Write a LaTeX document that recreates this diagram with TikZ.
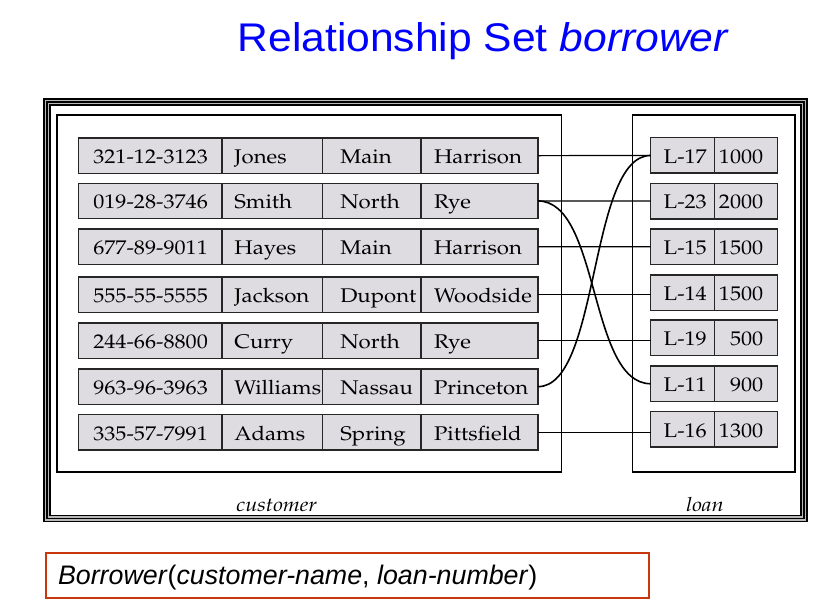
\documentclass[tikz,border=0pt]{standalone}
\usepackage[T1]{fontenc}
\usepackage{fontspec}
\newfontfamily\arialfont{Liberation Sans}
\newcommand\palfont{\fontencoding{T1}\fontfamily{ppl}\selectfont}
\newcommand\wide[1]{\scalebox{1.12}[1]{#1}}
% fixed-width cell contents: left or right aligned with a padding
\newcommand\lcell[3]{\makebox[#1pt][l]{\hspace*{#2pt}\wide{#3}}}
\newcommand\rcell[3]{\makebox[#1pt][r]{\wide{#3}\hspace*{#2pt}}}
\definecolor{cellgray}{RGB}{222,220,224}
\definecolor{boxred}{RGB}{200,56,12}
\definecolor{titleblue}{RGB}{0,0,255}

\tikzset{
  cell/.style={draw=black!85, line width=1.5pt, fill=cellgray, anchor=north west,
    inner sep=0pt, outer sep=0pt, minimum height=35.3pt,
    text height=15.6pt, text depth=0pt,
    font=\palfont\fontsize{19.8}{22}\selectfont},
  loancell/.style={cell, minimum height=35.5pt},
  frame/.style={line width=1.3pt, draw=black},
  link/.style={line width=1.2pt, draw=black},
  curvelink/.style={line width=1.6pt, draw=black},
  setlabel/.style={anchor=base, font=\palfont\itshape\fontsize{19.5}{22}\selectfont},
}

% one customer tuple: prefix, top, ssn, name, street, city
\newcommand\custrow[6]{%
  \node[cell] (#1a) at (78.3,#2) {\lcell{143.7}{15}{#3}};
  \node[cell] (#1b) at (#1a.north east) {\lcell{100.3}{12.3}{#4}};
  \node[cell] (#1c) at (#1b.north east) {\lcell{98.7}{18}{#5}};
  \node[cell] (#1d) at (#1c.north east) {\lcell{117}{13}{#6}};
}
% one loan tuple: prefix, top, number, amount
\newcommand\loanrow[4]{%
  \node[loancell] (#1a) at (650.7,#2) {\lcell{63.6}{13}{#3}};
  \node[loancell] (#1b) at (#1a.north east) {\rcell{63}{14}{#4}};
}

\begin{document}
\begin{tikzpicture}[x=1pt,y=-1pt]
  \fill[white] (0,0) rectangle (828,614);
  \useasboundingbox (0,0) rectangle (828,614);

  % title
  \node[anchor=base, text=titleblue, font=\arialfont\fontsize{40}{46}\selectfont]
    (title) at (483.5,51) {\scalebox{1.065}[1]{Relationship Set \textit{borrower}}};

  % triple outer frame
  \draw[gray!55, line width=6.5pt] (47,102) rectangle (804,518.5);
  \draw[frame] (44,99) rectangle (807,521.5);
  \draw[frame] (47,102) rectangle (804,518.5);
  \draw[frame] (50,105) rectangle (801,515.5);

  % entity set boxes
  \draw[frame] (57,115) rectangle (561.5,472);
  \draw[frame] (632.7,115) rectangle (795,472);

  % customer tuples
  \custrow{c1}{138}{321-12-3123}{Jones}{Main}{Harrison}
  \custrow{c2}{183.3}{019-28-3746}{Smith}{North}{Rye}
  \custrow{c3}{229}{677-89-9011}{Hayes}{Main}{Harrison}
  \custrow{c4}{277}{555-55-5555}{Jackson}{Dupont}{Woodside}
  \custrow{c5}{323}{244-66-8800}{Curry}{North}{Rye}
  \custrow{c6}{369}{963-96-3963}{Williams}{Nassau}{Princeton}
  \custrow{c7}{414.7}{335-57-7991}{Adams}{Spring}{Pittsfield}

  % loan tuples
  \loanrow{l1}{137.7}{L-17}{1000}
  \loanrow{l2}{183.3}{L-23}{2000}
  \loanrow{l3}{229}{L-15}{1500}
  \loanrow{l4}{275}{L-14}{1500}
  \loanrow{l5}{320}{L-19}{500}
  \loanrow{l6}{366}{L-11}{900}
  \loanrow{l7}{411.7}{L-16}{1300}

  % borrower relationships
  \draw[link] (c1d.east) -- (l1a.west);
  \draw[link] (c2d.east) -- (l2a.west);
  \draw[link] (c3d.east) -- (l3a.west);
  \draw[link] (c4d.east) -- (c4d.east -| l4a.west);
  \draw[link] (c5d.east) -- (c5d.east -| l5a.west);
  \draw[link] (c7d.east) -- (c7d.east -| l7a.west);
  \draw[curvelink] (c2d.east) .. controls +(62,0) and +(-62,0) .. (l6a.west);
  \draw[curvelink] (c6d.east) .. controls +(62,0) and +(-62,0) .. (l1a.west);

  % entity set names
  \node[setlabel] (custname) at (276.7,511.7) {\wide{customer}};
  \node[setlabel] (loanname) at (705,511.7) {\wide{loan}};

  % relation schema
  \node[draw=boxred, line width=2pt, anchor=north west, inner sep=0pt,
        minimum width=603pt, minimum height=45pt, text height=17pt, text depth=0pt,
        font=\arialfont\fontsize{26.8}{30}\selectfont]
    (schema) at (45,552)
    {\makebox[603pt][l]{\hspace*{12pt}\textit{Borrower}(\textit{customer-name}, \textit{loan-number})}};
\end{tikzpicture}
\end{document}
